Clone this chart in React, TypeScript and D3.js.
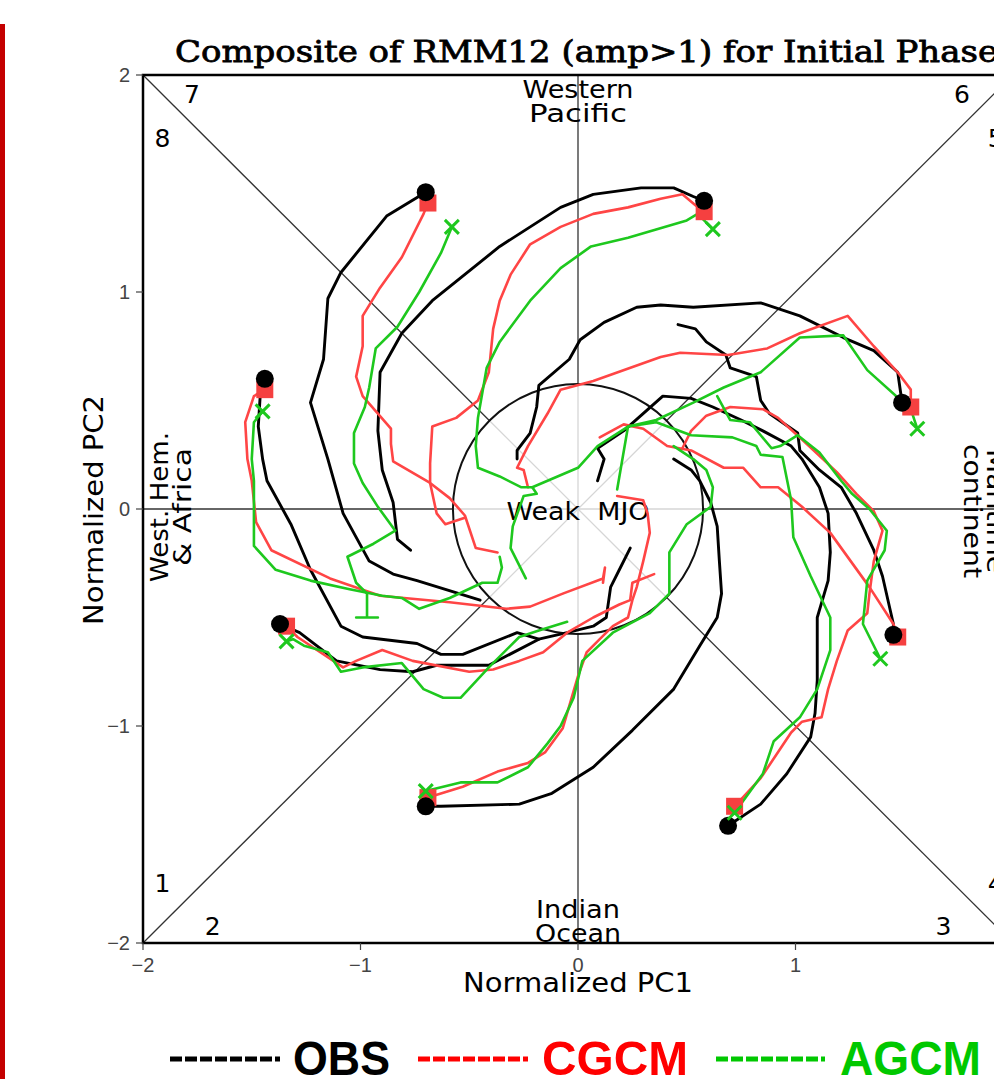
import React from 'react';
import * as d3 from 'd3';

type Pt = [number, number];

// RMM (PC1, PC2) composite trajectories, one per initial phase
const obs: Pt[][] = [
  // phase 1
  [[-1.37,-0.53],[-1.28,-0.57],[-1.11,-0.70],[-0.91,-0.74],[-0.76,-0.75],[-0.65,-0.72],[-0.41,-0.72],[-0.18,-0.60],[-0.05,-0.57],[0.07,-0.54],[0.13,-0.50],[0.15,-0.36],[0.19,-0.28],[0.24,-0.18]],
  // phase 2
  [[-0.70,-1.37],[-0.63,-1.37],[-0.27,-1.36],[-0.12,-1.31],[0.07,-1.19],[0.25,-1.02],[0.44,-0.83],[0.56,-0.63],[0.64,-0.50],[0.66,-0.39],[0.65,-0.24],[0.64,-0.08],[0.61,0.03],[0.56,0.13],[0.52,0.18],[0.44,0.23]],
  // phase 3
  [[0.69,-1.46],[0.84,-1.36],[0.96,-1.22],[1.07,-1.05],[1.09,-0.94],[1.10,-0.79],[1.10,-0.50],[1.15,-0.33],[1.16,-0.20],[1.15,-0.02],[1.11,0.10],[1.03,0.23],[0.98,0.29],[0.85,0.36],[0.75,0.41],[0.62,0.47],[0.52,0.51],[0.39,0.52],[0.21,0.36],[0.09,0.28],[0.12,0.23],[0.09,0.13]],
  // phase 4
  [[1.45,-0.58],[1.45,-0.53],[1.40,-0.31],[1.36,-0.19],[1.28,-0.02],[1.21,0.10],[1.11,0.18],[1.02,0.27],[1.01,0.35],[0.88,0.44],[0.84,0.50],[0.82,0.61],[0.70,0.65],[0.68,0.71],[0.59,0.77],[0.54,0.83],[0.46,0.85]],
  // phase 5
  [[1.49,0.49],[1.47,0.63],[1.36,0.73],[1.22,0.79],[1.02,0.89],[0.84,0.95],[0.53,0.93],[0.38,0.94],[0.27,0.93],[0.12,0.86],[0.01,0.78],[-0.04,0.69],[-0.18,0.57],[-0.19,0.47],[-0.22,0.35],[-0.28,0.27],[-0.28,0.23]],
  // phase 6
  [[0.58,1.42],[0.53,1.44],[0.44,1.48],[0.29,1.48],[0.07,1.45],[-0.08,1.39],[-0.36,1.21],[-0.67,0.96],[-0.81,0.81],[-0.91,0.63],[-0.92,0.36],[-0.90,0.18],[-0.85,0.03],[-0.83,-0.14],[-0.77,-0.19]],
  // phase 7
  [[-0.70,1.46],[-0.88,1.35],[-1.09,1.09],[-1.15,0.97],[-1.17,0.69],[-1.23,0.49],[-1.15,0.23],[-1.08,-0.02],[-0.96,-0.24],[-0.85,-0.30],[-0.74,-0.33],[-0.45,-0.42]],
  // phase 8
  [[-1.44,0.60],[-1.46,0.54],[-1.47,0.38],[-1.45,0.23],[-1.43,0.13],[-1.32,-0.07],[-1.23,-0.28],[-1.09,-0.54],[-0.99,-0.59],[-0.74,-0.62],[-0.63,-0.67],[-0.53,-0.67],[-0.28,-0.57],[-0.18,-0.60]],
];

const cgcm: Pt[][] = [
  [[-1.34,-0.54],[-1.29,-0.59],[-1.08,-0.73],[-1.02,-0.70],[-0.90,-0.65],[-0.76,-0.70],[-0.50,-0.75],[-0.39,-0.74],[-0.27,-0.70],[-0.16,-0.66],[-0.05,-0.57],[0.07,-0.50],[0.19,-0.44],[0.24,-0.42],[0.25,-0.34],[0.35,-0.30]],
  [[-0.69,-1.33],[-0.53,-1.28],[-0.37,-1.21],[-0.23,-1.17],[-0.15,-1.12],[-0.07,-1.01],[0.00,-0.77],[0.04,-0.66],[0.10,-0.60],[0.16,-0.54],[0.23,-0.50],[0.25,-0.42],[0.27,-0.36],[0.30,-0.24],[0.33,-0.11],[0.32,-0.02],[0.30,0.04],[0.18,0.06]],
  [[0.72,-1.37],[0.84,-1.24],[0.98,-1.03],[1.03,-0.98],[1.12,-0.96],[1.15,-0.83],[1.19,-0.70],[1.24,-0.56],[1.33,-0.48],[1.34,-0.39],[1.36,-0.24],[1.40,-0.10],[1.36,-0.01],[1.28,0.07],[1.19,0.17],[1.03,0.32],[0.92,0.42],[0.85,0.46],[0.70,0.47],[0.59,0.43],[0.52,0.36],[0.48,0.28]],
  [[1.47,-0.59],[1.45,-0.53],[1.34,-0.36],[1.16,-0.11],[1.03,0.01],[0.92,0.10],[0.84,0.10],[0.76,0.19],[0.67,0.19],[0.52,0.27],[0.41,0.29],[0.30,0.37],[0.21,0.39],[0.10,0.33]],
  [[1.53,0.47],[1.53,0.55],[1.47,0.63],[1.36,0.75],[1.24,0.89],[1.02,0.81],[0.87,0.74],[0.69,0.71],[0.47,0.72],[0.38,0.70],[0.07,0.59],[-0.08,0.55],[-0.14,0.44],[-0.23,0.29],[-0.28,0.19],[-0.25,0.18],[-0.23,0.10]],
  [[0.58,1.37],[0.54,1.40],[0.48,1.45],[0.38,1.43],[0.23,1.39],[0.07,1.36],[-0.08,1.30],[-0.22,1.22],[-0.31,1.08],[-0.36,0.96],[-0.39,0.83],[-0.41,0.63],[-0.46,0.50],[-0.56,0.42],[-0.67,0.38],[-0.68,0.21],[-0.68,0.12],[-0.65,-0.02],[-0.61,-0.07],[-0.52,-0.04]],
  [[-0.69,1.41],[-0.71,1.36],[-0.81,1.16],[-0.91,1.02],[-0.99,0.89],[-0.99,0.75],[-1.02,0.61],[-0.99,0.52],[-0.86,0.37],[-0.86,0.30],[-0.85,0.22],[-0.68,0.12],[-0.59,0.05],[-0.52,-0.03],[-0.47,-0.18],[-0.37,-0.20]],
  [[-1.44,0.55],[-1.49,0.52],[-1.53,0.40],[-1.52,0.23],[-1.50,0.13],[-1.48,-0.06],[-1.41,-0.19],[-1.14,-0.32],[-0.91,-0.40],[-0.59,-0.43],[-0.33,-0.46],[-0.22,-0.45],[-0.07,-0.39],[0.115,-0.32],[0.124,-0.27],[0.115,-0.34]],
];

const agcm: Pt[][] = [
  [[-1.34,-0.61],[-1.31,-0.60],[-1.26,-0.63],[-1.15,-0.66],[-1.09,-0.75],[-0.99,-0.73],[-0.81,-0.71],[-0.71,-0.83],[-0.62,-0.87],[-0.54,-0.87],[-0.41,-0.73],[-0.27,-0.59],[-0.18,-0.56],[-0.05,-0.52]],
  [[-0.70,-1.30],[-0.54,-1.26],[-0.37,-1.26],[-0.23,-1.19],[-0.14,-1.08],[-0.08,-1.00],[-0.02,-0.87],[0.02,-0.70],[0.16,-0.57],[0.33,-0.48],[0.42,-0.39],[0.42,-0.20],[0.50,-0.07],[0.61,0.01],[0.62,0.10],[0.59,0.18],[0.53,0.23],[0.44,0.29]],
  [[0.72,-1.40],[0.85,-1.22],[0.90,-1.07],[1.02,-0.96],[1.10,-0.83],[1.16,-0.65],[1.16,-0.50],[1.07,-0.31],[0.99,-0.13],[0.98,0.04],[0.94,0.24],[0.84,0.25],[0.82,0.29],[0.71,0.33],[0.52,0.34],[0.36,0.40],[0.23,0.38],[0.18,0.09]],
  [[1.39,-0.69],[1.31,-0.53],[1.33,-0.33],[1.41,-0.19],[1.42,-0.10],[1.34,0.00],[1.26,0.07],[1.21,0.13],[1.11,0.26],[1.01,0.34],[0.93,0.29],[0.89,0.28],[0.84,0.34],[0.79,0.40],[0.70,0.41],[0.64,0.52]],
  [[1.56,0.37],[1.53,0.46],[1.33,0.64],[1.22,0.80],[1.02,0.79],[0.84,0.63],[0.67,0.56],[0.53,0.49],[0.36,0.41],[0.23,0.38],[0.09,0.29],[0.00,0.19],[-0.21,0.10]],
  [[0.62,1.29],[0.55,1.36],[0.50,1.33],[0.23,1.25],[0.06,1.21],[-0.08,1.11],[-0.22,0.96],[-0.36,0.77],[-0.42,0.65],[-0.46,0.42],[-0.47,0.29],[-0.46,0.19],[-0.36,0.15],[-0.26,0.10],[-0.21,0.10],[-0.19,0.07],[-0.25,0.06],[-0.30,-0.08],[-0.31,-0.18],[-0.24,-0.32]],
  [[-0.58,1.30],[-0.63,1.18],[-0.73,1.00],[-0.83,0.84],[-0.93,0.74],[-0.96,0.56],[-0.98,0.47],[-1.03,0.35],[-1.03,0.21],[-0.99,0.12],[-0.92,0.01],[-0.84,-0.10],[-0.94,-0.16],[-1.06,-0.22],[-1.02,-0.34],[-0.97,-0.39],[-0.97,-0.50],[-1.02,-0.50],[-0.92,-0.50]],
  [[-1.45,0.45],[-1.49,0.40],[-1.50,0.23],[-1.49,0.13],[-1.49,-0.17],[-1.39,-0.28],[-1.23,-0.33],[-1.05,-0.37],[-0.90,-0.40],[-0.81,-0.41],[-0.73,-0.46],[-0.59,-0.41],[-0.44,-0.34],[-0.37,-0.34],[-0.35,-0.27],[-0.36,-0.22]],
];

const axisTicks = [-2, -1, 0, 1, 2];
const phaseNames = ['1', '2', '3', '4', '5', '6', '7', '8'];
const legendNames = ['OBS', 'CGCM', 'AGCM'];

const weakRadius = 0.575;
const OBS_COLOR = '#000000';
const CG_COLOR = '#ff4545';
const AG_COLOR = '#1ec81e';

// where the phase numbers sit in (PC1, PC2) space
const phasePos: Pt[] = [
  [-1.91, -1.765], [-1.68, -1.965], [1.68, -1.965], [1.92, -1.765],
  [1.92, 1.668], [1.765, 1.871], [-1.775, 1.871], [-1.91, 1.668],
];

const fmt = (v: number) => (v < 0 ? '\u2212' + Math.abs(v) : String(v));

export default function App() {
  const W = 994, H = 1079;
  const x = d3.scaleLinear().domain([-2, 2]).range([143, 1013]);
  const y = d3.scaleLinear().domain([-2, 2]).range([943, 75]);
  const line = d3.line<Pt>().x(d => x(d[0])).y(d => y(d[1]));

  const cx = x(0), cy = y(0);
  const rPx = x(weakRadius) - x(0);

  // the eight phase-dividing rays, outside and inside the weak circle
  const rays = d3.range(8).map(i => {
    const a = (i * Math.PI) / 4;
    const c = Math.cos(a), s = Math.sin(a);
    const L = 2 / Math.max(Math.abs(c), Math.abs(s));
    return { c, s, L };
  });

  const sans = 'DejaVu Sans, sans-serif';

  return (
    <svg width={W} height={H} style={{ position: 'absolute', left: 0, top: 0, background: '#fff' }}
      fontFamily={sans}>
      <rect x={0} y={24} width={5} height={H - 24} fill="#c40000" />

      <text x={175} y={62} fontFamily="DejaVu Serif, serif" fontSize={30} textLength={823}
        lengthAdjust="spacingAndGlyphs" stroke="#000" strokeWidth={0.8}>
        Composite of RMM12 (amp&gt;1) for Initial Phase
      </text>

      {/* phase lines */}
      {rays.map((r, i) => (
        <line key={'o' + i} x1={x(r.c * weakRadius)} y1={y(r.s * weakRadius)}
          x2={x(r.c * r.L)} y2={y(r.s * r.L)} stroke="#333" strokeWidth={1.3} />
      ))}
      {rays.slice(0, 4).map((r, i) => (
        <line key={'i' + i} x1={x(-r.c * weakRadius)} y1={y(-r.s * weakRadius)}
          x2={x(r.c * weakRadius)} y2={y(r.s * weakRadius)} stroke="#d6d6d6" strokeWidth={1.3} />
      ))}
      <circle cx={cx} cy={cy} r={rPx} fill="none" stroke="#111" strokeWidth={2} />

      <text x={cx} y={520} textAnchor="middle" fontSize={25} textLength={143}
        lengthAdjust="spacingAndGlyphs" style={{ whiteSpace: 'pre' }}>Weak  MJO</text>

      {/* region labels */}
      <g fontSize={24} textAnchor="middle">
        <text x={cx} y={98} textLength={111} lengthAdjust="spacingAndGlyphs">Western</text>
        <text x={cx} y={122} textLength={98} lengthAdjust="spacingAndGlyphs">Pacific</text>
        <text x={cx} y={918} textLength={84} lengthAdjust="spacingAndGlyphs">Indian</text>
        <text x={cx} y={942} textLength={86} lengthAdjust="spacingAndGlyphs">Ocean</text>
        <text transform={`translate(168,507) rotate(-90)`} textLength={150} lengthAdjust="spacingAndGlyphs">West. Hem.</text>
        <text transform={`translate(191,507) rotate(-90)`} textLength={118} lengthAdjust="spacingAndGlyphs">&amp; Africa</text>
        <text transform={`translate(964,511) rotate(90)`} textLength={134} lengthAdjust="spacingAndGlyphs">continent</text>
        <text transform={`translate(987,511) rotate(90)`} textLength={124} lengthAdjust="spacingAndGlyphs">Maritime</text>
      </g>

      <g fontSize={25} textAnchor="middle">
        {phaseNames.map((p, i) => (
          <text key={p} x={x(phasePos[i][0])} y={y(phasePos[i][1])}>{p}</text>
        ))}
      </g>

      {/* trajectories */}
      <g fill="none" strokeLinejoin="round" strokeLinecap="round">
        {obs.map((d, i) => <path key={'ob' + i} d={line(d) || ''} stroke={OBS_COLOR} strokeWidth={2.9} />)}
        {cgcm.map((d, i) => <path key={'cg' + i} d={line(d) || ''} stroke={CG_COLOR} strokeWidth={2.6} />)}
        {agcm.map((d, i) => <path key={'ag' + i} d={line(d) || ''} stroke={AG_COLOR} strokeWidth={2.6} />)}
      </g>

      {/* initial-phase markers */}
      {cgcm.map((d, i) => (
        <rect key={'sq' + i} x={x(d[0][0]) - 8.5} y={y(d[0][1]) - 8.5} width={17} height={17} fill="#f54040" />
      ))}
      {obs.map((d, i) => (
        <circle key={'dot' + i} cx={x(d[0][0])} cy={y(d[0][1])} r={9} fill="#000" />
      ))}
      {agcm.map((d, i) => {
        const px = x(d[0][0]), py = y(d[0][1]), s = 7;
        return (
          <path key={'x' + i} d={`M${px - s},${py - s}L${px + s},${py + s}M${px - s},${py + s}L${px + s},${py - s}`}
            stroke={AG_COLOR} strokeWidth={3} fill="none" />
        );
      })}

      {/* frame */}
      <rect x={x(-2)} y={y(2)} width={x(2) - x(-2)} height={y(-2) - y(2)} fill="none" stroke="#000" strokeWidth={2.5} />

      {/* ticks and tick labels */}
      <g fontFamily="Liberation Sans, sans-serif" fontSize={20} fill="#444">
        {axisTicks.map(t => (
          <g key={'xt' + t}>
            <line x1={x(t)} x2={x(t)} y1={y(-2)} y2={y(-2) + 7} stroke="#444" strokeWidth={1.2} />
            <text x={x(t)} y={972} textAnchor="middle">{fmt(t)}</text>
          </g>
        ))}
        {axisTicks.map(t => (
          <g key={'yt' + t}>
            <line x1={x(-2) - 7} x2={x(-2)} y1={y(t)} y2={y(t)} stroke="#444" strokeWidth={1.2} />
            <text x={130} y={y(t) + 7} textAnchor="end">{fmt(t)}</text>
          </g>
        ))}
      </g>

      <text x={cx} y={992} textAnchor="middle" fontSize={26} textLength={230} lengthAdjust="spacingAndGlyphs">Normalized PC1</text>
      <text transform={`translate(103,510) rotate(-90)`} textAnchor="middle" fontSize={26} textLength={230}
        lengthAdjust="spacingAndGlyphs">Normalized PC2</text>

      {/* legend */}
      <g fontFamily="Liberation Sans, Arial, sans-serif" fontWeight="bold" fontSize={49}>
        {[
          { x0: 170, x1: 280, tx: 293, tl: 97, c: '#000000' },
          { x0: 418, x1: 528, tx: 542, tl: 146, c: '#ff0000' },
          { x0: 716, x1: 825, tx: 840, tl: 141, c: '#00c800' },
        ].map((l, i) => (
          <g key={legendNames[i]}>
            <line x1={l.x0} x2={l.x1} y1={1059} y2={1059} stroke={l.c} strokeWidth={5} strokeDasharray="12 3" />
            <text x={l.tx} y={1075} fill={l.c} textLength={l.tl} lengthAdjust="spacingAndGlyphs">{legendNames[i]}</text>
          </g>
        ))}
      </g>
    </svg>
  );
}
